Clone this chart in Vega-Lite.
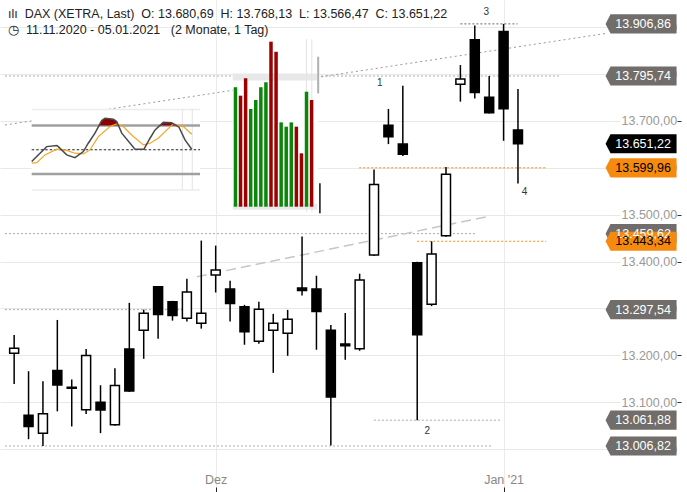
{
  "$schema": "https://vega.github.io/schema/vega-lite/v6.json",
  "width": 620,
  "height": 492,
  "autosize": {"type": "none"},
  "padding": {"left": 0, "top": 0, "right": 67, "bottom": 0},
  "background": "white",
  "title": {
    "text": "ılı\u00a0 DAX (XETRA, Last) \u00a0O: 13.680,69 \u00a0H: 13.768,13 \u00a0L: 13.566,47 \u00a0C: 13.651,22",
    "subtitle": "◷\u00a0 11.11.2020 - 05.01.2021 \u00a0\u00a0(2 Monate, 1 Tag)",
    "orient": "top",
    "anchor": "start",
    "frame": "group",
    "offset": -36,
    "dx": 8,
    "font": "Liberation Sans",
    "fontSize": 12.5,
    "fontWeight": "normal",
    "color": "#222222",
    "subtitleFont": "Liberation Sans",
    "subtitleFontSize": 12.5,
    "subtitleColor": "#222222",
    "subtitlePadding": 3
  },
  "config": {
    "view": {"stroke": null},
    "font": "Liberation Sans",
    "text": {"font": "Liberation Sans"}
  },
  "datasets": {
    "candles": [
      {"i": 0, "date": "2020-11-11", "open": 13204.3, "high": 13243.5, "low": 13139.1, "close": 13215.0},
      {"i": 1, "date": "2020-11-12", "open": 13072.1, "high": 13166.3, "low": 13021.3, "close": 13048.5},
      {"i": 2, "date": "2020-11-13", "open": 13034.2, "high": 13144.9, "low": 13006.82, "close": 13075.7},
      {"i": 3, "date": "2020-11-16", "open": 13167.8, "high": 13275.6, "low": 13080.7, "close": 13137.0},
      {"i": 4, "date": "2020-11-17", "open": 13132.0, "high": 13148.6, "low": 13048.5, "close": 13130.0},
      {"i": 5, "date": "2020-11-18", "open": 13084.3, "high": 13213.5, "low": 13074.9, "close": 13200.0},
      {"i": 6, "date": "2020-11-19", "open": 13099.9, "high": 13136.4, "low": 13034.2, "close": 13083.5},
      {"i": 7, "date": "2020-11-20", "open": 13052.2, "high": 13172.8, "low": 13050.0, "close": 13135.7},
      {"i": 8, "date": "2020-11-23", "open": 13213.5, "high": 13312.0, "low": 13122.0, "close": 13124.1},
      {"i": 9, "date": "2020-11-24", "open": 13253.5, "high": 13297.54, "low": 13192.7, "close": 13290.0},
      {"i": 10, "date": "2020-11-25", "open": 13346.3, "high": 13348.0, "low": 13235.6, "close": 13287.0},
      {"i": 11, "date": "2020-11-26", "open": 13314.2, "high": 13316.3, "low": 13274.1, "close": 13284.8},
      {"i": 12, "date": "2020-11-27", "open": 13279.3, "high": 13363.4, "low": 13272.0, "close": 13334.9},
      {"i": 13, "date": "2020-11-30", "open": 13268.5, "high": 13444.8, "low": 13257.0, "close": 13290.0},
      {"i": 14, "date": "2020-12-01", "open": 13371.4, "high": 13434.1, "low": 13334.1, "close": 13382.1},
      {"i": 15, "date": "2020-12-02", "open": 13341.4, "high": 13359.2, "low": 13272.0, "close": 13310.5},
      {"i": 16, "date": "2020-12-03", "open": 13303.5, "high": 13307.7, "low": 13222.7, "close": 13250.5},
      {"i": 17, "date": "2020-12-04", "open": 13230.0, "high": 13314.2, "low": 13224.8, "close": 13298.5},
      {"i": 18, "date": "2020-12-07", "open": 13253.5, "high": 13288.5, "low": 13162.7, "close": 13268.5},
      {"i": 19, "date": "2020-12-08", "open": 13247.1, "high": 13297.0, "low": 13199.1, "close": 13277.1},
      {"i": 20, "date": "2020-12-09", "open": 13343.5, "high": 13453.4, "low": 13327.7, "close": 13338.4},
      {"i": 21, "date": "2020-12-10", "open": 13341.4, "high": 13369.9, "low": 13212.0, "close": 13293.4},
      {"i": 22, "date": "2020-12-11", "open": 13253.5, "high": 13264.9, "low": 13007.8, "close": 13111.3},
      {"i": 23, "date": "2020-12-14", "open": 13224.2, "high": 13290.6, "low": 13190.6, "close": 13220.6},
      {"i": 24, "date": "2020-12-15", "open": 13214.1, "high": 13374.2, "low": 13209.8, "close": 13360.7},
      {"i": 25, "date": "2020-12-16", "open": 13414.2, "high": 13596.3, "low": 13412.0, "close": 13564.2},
      {"i": 26, "date": "2020-12-17", "open": 13690.6, "high": 13725.5, "low": 13650.5, "close": 13666.1},
      {"i": 27, "date": "2020-12-18", "open": 13650.5, "high": 13774.8, "low": 13625.4, "close": 13629.1},
      {"i": 28, "date": "2020-12-21", "open": 13397.7, "high": 13399.9, "low": 13061.88, "close": 13244.1},
      {"i": 29, "date": "2020-12-22", "open": 13309.2, "high": 13443.34, "low": 13305.0, "close": 13416.4},
      {"i": 30, "date": "2020-12-23", "open": 13454.9, "high": 13601.9, "low": 13453.0, "close": 13586.2},
      {"i": 31, "date": "2020-12-28", "open": 13778.4, "high": 13819.1, "low": 13741.1, "close": 13789.1},
      {"i": 32, "date": "2020-12-29", "open": 13873.3, "high": 13903.3, "low": 13747.6, "close": 13760.4},
      {"i": 33, "date": "2020-12-30", "open": 13750.6, "high": 13795.74, "low": 13716.0, "close": 13717.6},
      {"i": 34, "date": "2021-01-04", "open": 13890.4, "high": 13906.86, "low": 13657.6, "close": 13726.1},
      {"i": 35, "date": "2021-01-05", "open": 13680.69, "high": 13768.13, "low": 13566.47, "close": 13651.22}
    ],
    "levels": [
      {"price": 13906.86, "from": 31.0, "to": 34.97, "kind": "dark"},
      {"price": 13795.74, "from": -0.64, "to": 37.98, "kind": "gray"},
      {"price": 13459.62, "from": -0.64, "to": 32.03, "kind": "gray"},
      {"price": 13297.54, "from": -0.64, "to": 11.87, "kind": "gray"},
      {"price": 13061.88, "from": 24.99, "to": 33.88, "kind": "gray"},
      {"price": 13006.82, "from": -0.64, "to": 33.2, "kind": "gray"},
      {"price": 13599.96, "from": 23.97, "to": 36.96, "kind": "orange"},
      {"price": 13443.34, "from": 28.0, "to": 36.96, "kind": "orange"}
    ],
    "trends": [
      {"line": "upper", "i1": -0.64, "p1": 13691.3, "i2": 41.12, "p2": 13886.6},
      {"line": "lower", "i1": 12.69, "p1": 13367.8, "i2": 32.85, "p2": 13495.8}
    ],
    "waves": [
      {"t": "1", "i": 25.4, "price": 13780.8},
      {"t": "2", "i": 28.7, "price": 13038.8},
      {"t": "3", "i": 32.8, "price": 13932.9},
      {"t": "4", "i": 35.45, "price": 13548.4}
    ],
    "tags": [
      {"price": 13906.86, "label": "13.906,86", "kind": "gray"},
      {"price": 13795.74, "label": "13.795,74", "kind": "gray"},
      {"price": 13651.22, "label": "13.651,22", "kind": "black"},
      {"price": 13599.96, "label": "13.599,96", "kind": "orange"},
      {"price": 13459.62, "label": "13.459,62", "kind": "gray"},
      {"price": 13443.34, "label": "13.443,34", "kind": "orange"},
      {"price": 13297.54, "label": "13.297,54", "kind": "gray"},
      {"price": 13061.88, "label": "13.061,88", "kind": "gray"},
      {"price": 13006.82, "label": "13.006,82", "kind": "gray"}
    ],
    "oscK": [
      {"t": 0, "s": 35.3}, {"t": 3.9, "s": 43.6}, {"t": 8.9, "s": 53.9}, {"t": 14.9, "s": 55.2},
      {"t": 15.8, "s": 53.9}, {"t": 20.8, "s": 43.6}, {"t": 25.7, "s": 40.2}, {"t": 30.7, "s": 47.7},
      {"t": 33.6, "s": 58.1}, {"t": 37.6, "s": 70.6}, {"t": 41.6, "s": 86.2}, {"t": 43.6, "s": 89.2},
      {"t": 48.5, "s": 88.0}, {"t": 50.5, "s": 85.0}, {"t": 53.5, "s": 70.6}, {"t": 61.4, "s": 50.7},
      {"t": 66.7, "s": 50.7}, {"t": 70.3, "s": 64.3}, {"t": 73.3, "s": 74.7}, {"t": 78.2, "s": 84.0},
      {"t": 83.2, "s": 83.5}, {"t": 87.5, "s": 78.0}, {"t": 91.1, "s": 62.2}, {"t": 95.1, "s": 50.7}
    ],
    "oscD": [
      {"t": 0, "s": 33.3}, {"t": 3.0, "s": 34.0}, {"t": 7.9, "s": 43.6}, {"t": 14.9, "s": 50.7},
      {"t": 19.8, "s": 49.8}, {"t": 25.7, "s": 45.7}, {"t": 30.7, "s": 44.8}, {"t": 34.6, "s": 49.8},
      {"t": 39.6, "s": 66.3}, {"t": 46.5, "s": 78.8}, {"t": 50.5, "s": 82.1}, {"t": 54.4, "s": 78.8},
      {"t": 59.4, "s": 68.4}, {"t": 66.3, "s": 56.0}, {"t": 70.3, "s": 58.1}, {"t": 75.2, "s": 64.3},
      {"t": 79.2, "s": 72.5}, {"t": 84.1, "s": 82.1}, {"t": 90.1, "s": 78.8}, {"t": 95.1, "s": 69.3}
    ],
    "oscFill": [
      {"seg": 1, "t": 40.2, "s": 80}, {"seg": 1, "t": 41.6, "s": 86.2}, {"seg": 1, "t": 43.6, "s": 89.2},
      {"seg": 1, "t": 48.5, "s": 88.0}, {"seg": 1, "t": 50.5, "s": 85.0}, {"seg": 1, "t": 51.8, "s": 80},
      {"seg": 2, "t": 76.2, "s": 80}, {"seg": 2, "t": 78.2, "s": 84.0}, {"seg": 2, "t": 83.2, "s": 83.5},
      {"seg": 2, "t": 86.5, "s": 80}
    ],
    "bars": [
      {"k": 1, "h": 72.1, "dir": "up"}, {"k": 2, "h": 67.0, "dir": "down"},
      {"k": 3, "h": 77.5, "dir": "down"}, {"k": 4, "h": 59.0, "dir": "up"},
      {"k": 5, "h": 64.4, "dir": "up"}, {"k": 6, "h": 72.1, "dir": "up"},
      {"k": 7, "h": 75.1, "dir": "up"}, {"k": 8, "h": 99.6, "dir": "down"},
      {"k": 9, "h": 93.5, "dir": "down"}, {"k": 10, "h": 50.9, "dir": "up"},
      {"k": 11, "h": 48.3, "dir": "up"}, {"k": 12, "h": 50.9, "dir": "up"},
      {"k": 13, "h": 48.3, "dir": "down"}, {"k": 14, "h": 32.2, "dir": "down"},
      {"k": 15, "h": 69.4, "dir": "up"}, {"k": 16, "h": 64.4, "dir": "down"}
    ]
  },
  "layer": [
    {
      "layer": [
        {
          "data": {"name": "levels"},
          "mark": {"type": "rule", "strokeDash": [2, 2], "strokeWidth": 1},
          "encoding": {
            "x": {
              "field": "from", "type": "quantitative",
              "scale": {"domain": [-0.636, 41.74], "nice": false, "zero": false},
              "axis": {
                "title": null, "orient": "bottom", "values": [14, 34],
                "labelExpr": "datum.value == 14 ? 'Dez' : \"Jan '21\"",
                "grid": true, "gridColor": "#ebebeb", "gridWidth": 1,
                "domain": false, "ticks": true, "tickSize": -5, "tickColor": "#222222", "tickWidth": 1,
                "labelPadding": -14, "labelColor": "#888888", "labelFontSize": 12.5,
                "labelFont": "Liberation Sans", "labelFlush": false, "labelOverlap": false
              }
            },
            "x2": {"field": "to"},
            "y": {
              "field": "price", "type": "quantitative",
              "scale": {"domain": [12908.7, 13957.8], "nice": false, "zero": false},
              "axis": {
                "title": null, "orient": "right",
                "values": [13000, 13100, 13200, 13300, 13400, 13500, 13600, 13700, 13800, 13900],
                "labelExpr": "replace(replace(replace(format(datum.value, ',.2f'), ',', '_'), '.', ','), '_', '.')",
                "grid": true, "gridColor": "#e8e8e8", "gridWidth": 1,
                "domain": false, "ticks": false, "labelPadding": 1, "labelAlign": "left",
                "labelBaseline": "middle",
                "labelColor": "#999999", "labelFontSize": 12.5, "labelFont": "Liberation Sans",
                "labelFlush": false, "labelOverlap": false
              }
            },
            "stroke": {
              "condition": [
                {"test": "datum.kind === 'orange'", "value": "#f39019"},
                {"test": "datum.kind === 'dark'", "value": "#666666"}
              ],
              "value": "#aaaaaa"
            }
          }
        },
        {
          "data": {"name": "trends"},
          "transform": [{"filter": "datum.line === 'upper'"}],
          "mark": {"type": "rule", "strokeDash": [2, 3], "strokeWidth": 1, "color": "#999999"},
          "encoding": {
            "x": {"field": "i1", "type": "quantitative"},
            "x2": {"field": "i2"},
            "y": {"field": "p1", "type": "quantitative"},
            "y2": {"field": "p2"}
          }
        },
        {
          "data": {"name": "trends"},
          "transform": [{"filter": "datum.line === 'lower'"}],
          "mark": {"type": "rule", "strokeDash": [10, 5], "strokeWidth": 1.5, "color": "#c6c6c6"},
          "encoding": {
            "x": {"field": "i1", "type": "quantitative"},
            "x2": {"field": "i2"},
            "y": {"field": "p1", "type": "quantitative"},
            "y2": {"field": "p2"}
          }
        },
        {
          "data": {"name": "candles"},
          "mark": {"type": "rule", "color": "#000000", "strokeWidth": 1.5},
          "encoding": {
            "x": {"field": "i", "type": "quantitative"},
            "y": {"field": "low", "type": "quantitative"},
            "y2": {"field": "high"}
          }
        },
        {
          "data": {"name": "candles"},
          "mark": {"type": "bar", "size": 9, "stroke": "#000000", "strokeWidth": 1.5, "cornerRadius": 0},
          "encoding": {
            "x": {"field": "i", "type": "quantitative"},
            "y": {"field": "open", "type": "quantitative"},
            "y2": {"field": "close"},
            "fill": {"condition": {"test": "datum.close >= datum.open", "value": "#ffffff"}, "value": "#000000"}
          }
        },
        {
          "data": {"name": "waves"},
          "mark": {"type": "text", "fontSize": 10, "align": "center", "baseline": "middle", "color": "#333333"},
          "encoding": {
            "x": {"field": "i", "type": "quantitative"},
            "y": {"field": "price", "type": "quantitative"},
            "text": {"field": "t"}
          }
        },
        {
          "data": {"name": "tags"},
          "mark": {
            "type": "point",
            "shape": "M -1 0 L -0.86 -0.27 L 1 -0.27 L 1 0.27 L -0.86 0.27 Z",
            "size": 5041, "filled": true, "strokeWidth": 0, "opacity": 1
          },
          "encoding": {
            "x": {"datum": 43.55, "type": "quantitative"},
            "y": {"field": "price", "type": "quantitative"},
            "fill": {
              "condition": [
                {"test": "datum.kind === 'orange'", "value": "#f68a0e"},
                {"test": "datum.kind === 'black'", "value": "#000000"}
              ],
              "value": "#716d6a"
            }
          }
        },
        {
          "data": {"name": "tags"},
          "mark": {"type": "text", "fontSize": 12.5, "align": "center", "baseline": "middle"},
          "encoding": {
            "x": {"datum": 43.69, "type": "quantitative"},
            "y": {"field": "price", "type": "quantitative"},
            "text": {"field": "label"},
            "color": {"condition": {"test": "datum.kind === 'orange'", "value": "#000000"}, "value": "#ffffff"}
          }
        }
      ]
    },
    {
      "layer": [
        {
          "data": {"values": [{}]},
          "mark": {"type": "rect", "fill": "#ffffff"},
          "encoding": {
            "x": {"datum": 0, "type": "quantitative", "scale": {"domain": [0, 100], "range": [31.7, 200], "nice": false, "zero": false}, "axis": null},
            "x2": {"datum": 100},
            "y": {"datum": 0, "type": "quantitative", "scale": {"domain": [0, 100], "range": [190, 109.5], "nice": false, "zero": false}, "axis": null},
            "y2": {"datum": 100}
          }
        },
        {
          "data": {"values": [{"s": 100}, {"s": 0}]},
          "mark": {"type": "rule", "color": "#ececec", "strokeWidth": 1.5},
          "encoding": {
            "x": {"datum": 0, "type": "quantitative", "axis": null},
            "x2": {"datum": 100},
            "y": {"field": "s", "type": "quantitative", "axis": null}
          }
        },
        {
          "data": {"values": [{"t": 89.5}, {"t": 95.4}]},
          "mark": {"type": "rule", "color": "#e2e2e2", "strokeWidth": 1},
          "encoding": {
            "x": {"field": "t", "type": "quantitative", "axis": null},
            "y": {"datum": 0, "type": "quantitative", "axis": null},
            "y2": {"datum": 100}
          }
        },
        {
          "data": {"values": [{"s": 80}, {"s": 20}]},
          "mark": {"type": "rule", "color": "#a0a0a0", "strokeWidth": 2.5},
          "encoding": {
            "x": {"datum": 0, "type": "quantitative", "axis": null},
            "x2": {"datum": 100},
            "y": {"field": "s", "type": "quantitative", "axis": null}
          }
        },
        {
          "data": {"values": [{"s": 50}]},
          "mark": {"type": "rule", "color": "#222222", "strokeWidth": 1, "strokeDash": [2.5, 2]},
          "encoding": {
            "x": {"datum": 0, "type": "quantitative", "axis": null},
            "x2": {"datum": 100},
            "y": {"field": "s", "type": "quantitative", "axis": null}
          }
        },
        {
          "data": {"name": "oscFill"},
          "mark": {"type": "area", "color": "#8b0000", "opacity": 1},
          "encoding": {
            "x": {"field": "t", "type": "quantitative", "axis": null},
            "y": {"field": "s", "type": "quantitative", "axis": null},
            "y2": {"datum": 80},
            "detail": {"field": "seg", "type": "nominal"}
          }
        },
        {
          "data": {"name": "oscD"},
          "mark": {"type": "line", "color": "#f5a623", "strokeWidth": 1.2},
          "encoding": {
            "x": {"field": "t", "type": "quantitative", "axis": null},
            "y": {"field": "s", "type": "quantitative", "axis": null}
          }
        },
        {
          "data": {"name": "oscK"},
          "mark": {"type": "line", "color": "#4a4a4a", "strokeWidth": 1.5},
          "encoding": {
            "x": {"field": "t", "type": "quantitative", "axis": null},
            "y": {"field": "s", "type": "quantitative", "axis": null}
          }
        }
      ]
    },
    {
      "layer": [
        {
          "data": {"values": [{}]},
          "mark": {"type": "rect", "fill": "#ffffff"},
          "encoding": {
            "x": {"datum": 0.46, "type": "quantitative", "scale": {"domain": [0, 17.5], "range": [225.4, 324.2], "nice": false, "zero": false}, "axis": null},
            "x2": {"datum": 17.29},
            "y": {"datum": -3.2, "type": "quantitative", "scale": {"domain": [0, 100], "range": [206.7, 41], "nice": false, "zero": false}, "axis": null},
            "y2": {"datum": 101.8}
          }
        },
        {
          "data": {"values": [{"u": 78.3}]},
          "mark": {"type": "rule", "color": "#e8e8e8", "strokeWidth": 7},
          "encoding": {
            "x": {"datum": 0.46, "type": "quantitative", "axis": null},
            "x2": {"datum": 17.1},
            "y": {"field": "u", "type": "quantitative", "axis": null}
          }
        },
        {
          "data": {"values": [{"u": 0}]},
          "mark": {"type": "rule", "color": "#eaeaea", "strokeWidth": 6},
          "encoding": {
            "x": {"datum": 0.46, "type": "quantitative", "axis": null},
            "x2": {"datum": 17.1},
            "y": {"field": "u", "type": "quantitative", "axis": null}
          }
        },
        {
          "data": {"values": [{"k": 14.98}, {"k": 16.05}]},
          "mark": {"type": "rule", "color": "#e2e2e2", "strokeWidth": 1},
          "encoding": {
            "x": {"field": "k", "type": "quantitative", "axis": null},
            "y": {"datum": -3, "type": "quantitative", "axis": null},
            "y2": {"datum": 101}
          }
        },
        {
          "data": {"name": "bars"},
          "mark": {"type": "bar", "size": 3.5},
          "encoding": {
            "x": {"field": "k", "type": "quantitative", "axis": null},
            "y": {"field": "h", "type": "quantitative", "axis": null},
            "y2": {"datum": 0},
            "color": {"condition": {"test": "datum.dir === 'up'", "value": "#0a870a"}, "value": "#9c0000"}
          }
        },
        {
          "data": {"values": [{"k": 17.3, "a": 68.4, "b": 90.5}]},
          "mark": {"type": "rule", "color": "#b0b0b0", "strokeWidth": 2},
          "encoding": {
            "x": {"field": "k", "type": "quantitative", "axis": null},
            "y": {"field": "a", "type": "quantitative", "axis": null},
            "y2": {"field": "b"}
          }
        },
        {
          "data": {"values": [{"k": 17.64, "a": -4, "b": 14.1}]},
          "mark": {"type": "rule", "color": "#111111", "strokeWidth": 1.5},
          "encoding": {
            "x": {"field": "k", "type": "quantitative", "axis": null},
            "y": {"field": "a", "type": "quantitative", "axis": null},
            "y2": {"field": "b"}
          }
        }
      ]
    },
    {
      "data": {"values": [{}]},
      "mark": {"type": "point", "opacity": 0},
      "encoding": {
        "x": {"datum": 0, "type": "quantitative", "axis": null},
        "y": {
          "datum": 13500, "type": "quantitative",
          "scale": {"domain": [12908.7, 13957.8], "nice": false, "zero": false},
          "axis": {
            "title": null, "orient": "right", "offset": 57,
            "values": [13100, 13200, 13400, 13500, 13700],
            "labels": false, "grid": false, "domain": false,
            "ticks": true, "tickSize": 4, "tickColor": "#333333", "tickWidth": 1
          }
        }
      }
    }
  ],
  "resolve": {
    "scale": {"x": "independent", "y": "independent"},
    "axis": {"x": "independent", "y": "independent"}
  }
}
